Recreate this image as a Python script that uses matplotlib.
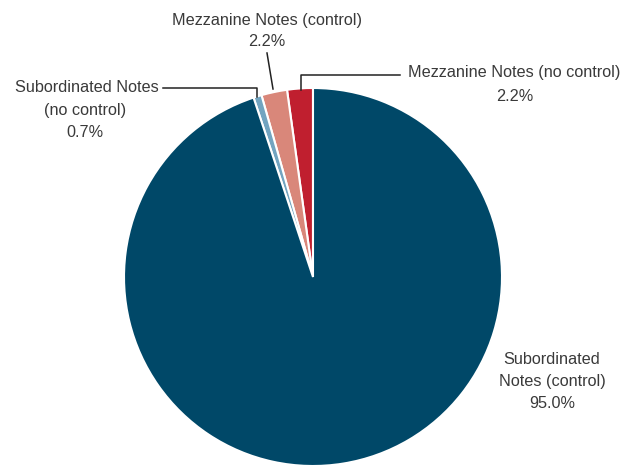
import matplotlib
matplotlib.use("Agg")
import matplotlib.pyplot as plt

labels = ["Mezzanine Notes (no control)", "Mezzanine Notes (control)",
          "Subordinated Notes\n(no control)", "Subordinated\nNotes (control)"]
values = [2.2, 2.2, 0.7, 95.0]
colors = ["#C01F2F", "#D9877A", "#72A4C0", "#004868"]

W, H = 623, 465
fig = plt.figure(figsize=(W / 100, H / 100), dpi=100)
ax = fig.add_axes([0, 0, 1, 1])

cx, cy, r = 313, -277, 189
ax.pie(values, colors=colors, startangle=90, counterclock=True,
       center=(cx, cy), radius=r, frame=True,
       wedgeprops=dict(edgecolor="white", linewidth=1.5))
ax.set_xlim(0, W)
ax.set_ylim(-H, 0)
ax.set_aspect("equal")
ax.axis("off")

fs = 11.7
tc = "#3a3a3a"
lc = "#222222"
font = dict(fontsize=fs, color=tc, family=["Liberation Sans", "DejaVu Sans"])

# Mezzanine (no control)
ax.plot([301, 301, 400], [-90, -75, -75], color=lc, lw=1.1)
ax.text(514, -73, labels[0], ha="center", va="center", **font)
ax.text(515, -96, f"{values[0]:.1f}%", ha="center", va="center", **font)

# Mezzanine (control)
ax.plot([267, 273], [-53, -89], color=lc, lw=1.1)
ax.text(267, -21, labels[1], ha="center", va="center", **font)
ax.text(267, -42, f"{values[1]:.1f}%", ha="center", va="center", **font)

# Subordinated (no control)
ax.plot([163, 257, 257], [-88, -88, -97], color=lc, lw=1.1)
ax.text(159, -87, "Subordinated Notes", ha="right", va="center", **font)
ax.text(85, -110, "(no control)", ha="center", va="center", **font)
ax.text(85, -132, f"{values[2]:.1f}%", ha="center", va="center", **font)

# Subordinated (control)
ax.text(552, -359, "Subordinated", ha="center", va="center", **font)
ax.text(552, -381, "Notes (control)", ha="center", va="center", **font)
ax.text(552, -403, f"{values[3]:.1f}%", ha="center", va="center", **font)

fig.savefig("out.png", dpi=100)
